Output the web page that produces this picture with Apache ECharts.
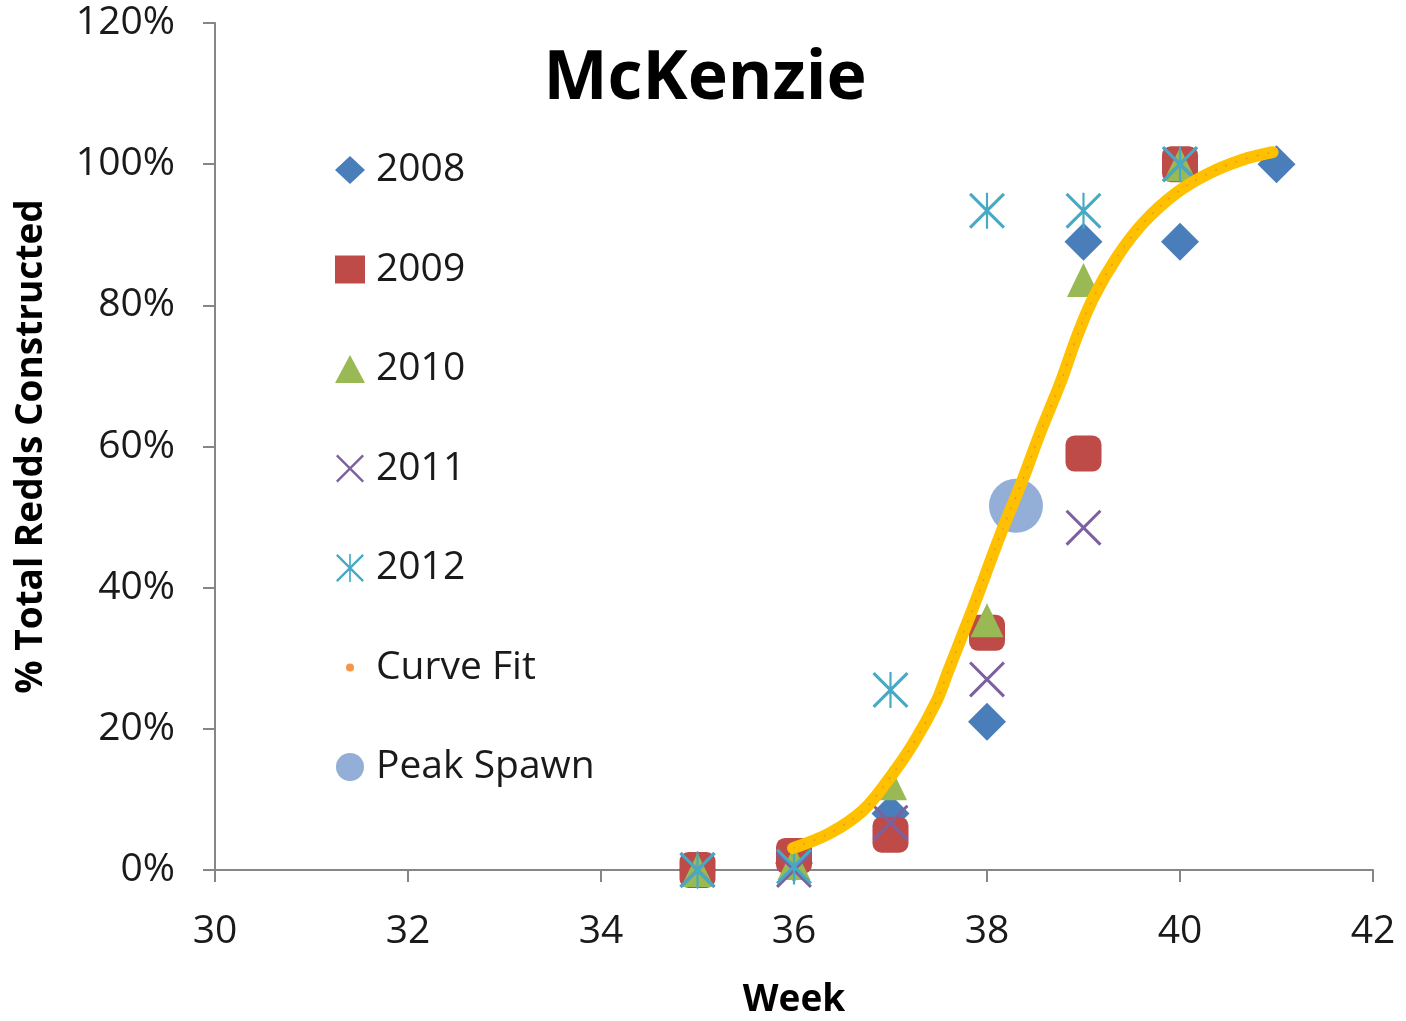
<!DOCTYPE html>
<html>
<head>
<meta charset="utf-8">
<title>McKenzie</title>
<script src="https://cdn.jsdelivr.net/npm/echarts@6/dist/echarts.min.js"></script>
<style>
  html, body { margin: 0; padding: 0; background: #fff; }
  #chart { width: 1406px; height: 1021px; }
</style>
</head>
<body>
<div id="chart"></div>
<script>
// weeks and % of total redds per year
const weeks = [35, 36, 37, 38, 39, 40, 41]
const y2008 = [0, 1, 8, 21, 89, 89, 100]
const y2009 = [0, 2, 5, 33.6, 59, 100, null]
const y2010 = [0, 1, 12.3, 35.4, 83.6, 100, null]
const y2011 = [0, 0, 6.7, 27, 48.5, 100, null]
const y2012 = [0, 0.5, 25.5, 93.4, 93.4, 100, null]

// fitted curve
const curveWeeks = [35.99, 36.37, 36.72, 37.0, 37.24, 37.48, 37.59, 37.86, 38.13, 38.37, 38.55, 38.76, 38.93, 39.1, 39.35, 39.62, 39.96, 40.3, 40.64, 40.96]
const curvePct = [3.1, 5.2, 8.5, 13.2, 18, 24, 27.9, 37.3, 47.2, 55.3, 61.9, 69, 75.5, 81, 86.9, 91.7, 95.9, 98.7, 100.6, 101.7]

const peakWeek = [38.3]
const peakPct = [51.6]

const xTicks = [30, 42, 2]
const yTicks = [0, 120, 20]

const FONT = '"Open Sans", "Noto Sans", sans-serif'

const X_PATH = 'path://M0,1.2L1.2,0L20,18.8L18.8,20Z M18.8,0L20,1.2L1.2,20L0,18.8Z'
const STAR_PATH = 'path://M0,1.2L1.2,0L20,18.8L18.8,20Z M18.8,0L20,1.2L1.2,20L0,18.8Z M9.4,0L10.6,0L10.6,20L9.4,20Z'
const DOT_ICON = 'image://data:image/svg+xml;utf8,' + encodeURIComponent(
  '<svg xmlns="http://www.w3.org/2000/svg" width="30" height="28"><circle cx="15" cy="14" r="4" fill="#F79646"/></svg>')

function pairs(vals) {
  return weeks.map((w, i) => vals[i] == null ? null : [w, vals[i]]).filter(Boolean)
}

const curveData = curveWeeks.map((w, i) => [w, curvePct[i]])

const chart = echarts.init(document.getElementById('chart'))
chart.setOption({
  backgroundColor: '#fff',
  animation: false,
  title: {
    text: 'McKenzie',
    left: 700, top: 41, textAlign: 'center',
    textStyle: { fontFamily: FONT, fontSize: 68, fontWeight: 'bold', color: '#000' },
  },
  legend: {
    orient: 'vertical',
    left: 330, top: 145,
    itemWidth: 30, itemHeight: 28,
    itemGap: 59.5,
    textStyle: { fontFamily: FONT, fontSize: 39, color: '#1a1a1a', lineHeight: 40, padding: [0, 0, 0, 6] },
    data: [
      { name: '2008', icon: 'diamond' },
      { name: '2009', icon: 'rect' },
      { name: '2010', icon: 'triangle' },
      { name: '2011', icon: X_PATH },
      { name: '2012', icon: STAR_PATH },
      { name: 'Curve Fit', icon: DOT_ICON },
      { name: 'Peak Spawn', icon: 'circle' },
    ],
  },
  grid: { left: 215, right: 33, top: 23, bottom: 151, outerBoundsMode: 'none' },
  xAxis: {
    type: 'value', min: xTicks[0], max: xTicks[1], interval: xTicks[2],
    name: 'Week', nameLocation: 'middle', nameGap: 112,
    nameTextStyle: { fontFamily: FONT, fontSize: 37, fontWeight: 'bold', color: '#000' },
    axisLine: { lineStyle: { color: '#868686', width: 2 } },
    axisTick: { show: true, length: 12, lineStyle: { color: '#868686', width: 2 } },
    axisLabel: { fontFamily: FONT, fontSize: 39, color: '#1a1a1a', margin: 42 },
    splitLine: { show: false },
  },
  yAxis: {
    type: 'value', min: yTicks[0], max: yTicks[1], interval: yTicks[2],
    name: '% Total Redds Constructed', nameLocation: 'middle', nameGap: 165,
    nameTextStyle: { fontFamily: FONT, fontSize: 37, fontWeight: 'bold', color: '#000' },
    axisLine: { show: true, lineStyle: { color: '#868686', width: 2 } },
    axisTick: { show: true, length: 12, lineStyle: { color: '#868686', width: 2 } },
    axisLabel: { fontFamily: FONT, fontSize: 39, color: '#1a1a1a', margin: 40, formatter: '{value}%' },
    splitLine: { show: false },
  },
  series: [
    { name: '2008', type: 'scatter', data: pairs(y2008), symbol: 'diamond', symbolSize: [38, 38],
      itemStyle: { color: '#4A7EBB', opacity: 1 } },
    { name: '2009', type: 'scatter', data: pairs(y2009), symbol: 'roundRect', symbolSize: [36, 36],
      itemStyle: { color: '#BE4B48', opacity: 1 } },
    { name: '2010', type: 'scatter', data: pairs(y2010), symbol: 'triangle', symbolSize: [33, 34],
      itemStyle: { color: '#98B954', opacity: 1 } },
    { name: '2011', type: 'scatter', data: pairs(y2011), symbol: X_PATH, symbolSize: [36, 36],
      itemStyle: { color: '#7D60A0', opacity: 1 } },
    { name: '2012', type: 'scatter', data: pairs(y2012), symbol: STAR_PATH, symbolSize: [36, 36],
      itemStyle: { color: '#46AAC5', opacity: 1 } },
    { name: 'Curve Fit', type: 'line', smooth: 0.35, showSymbol: false,
      data: curveData,
      itemStyle: { color: '#F79646' },
      lineStyle: { color: '#FFC000', width: 12, cap: 'round' } },
    { name: 'Curve Fit', type: 'line', smooth: 0.35, showSymbol: false,
      data: curveData,
      itemStyle: { color: '#F79646' },
      lineStyle: { color: '#E98B3A', width: 1.5, type: [2, 9], opacity: 0.8 } },
    { name: 'Peak Spawn', type: 'scatter', data: peakWeek.map((w, i) => [w, peakPct[i]]),
      symbol: 'circle', symbolSize: 54, itemStyle: { color: '#93AFD8', opacity: 1 } },
  ],
})
</script>
</body>
</html>
